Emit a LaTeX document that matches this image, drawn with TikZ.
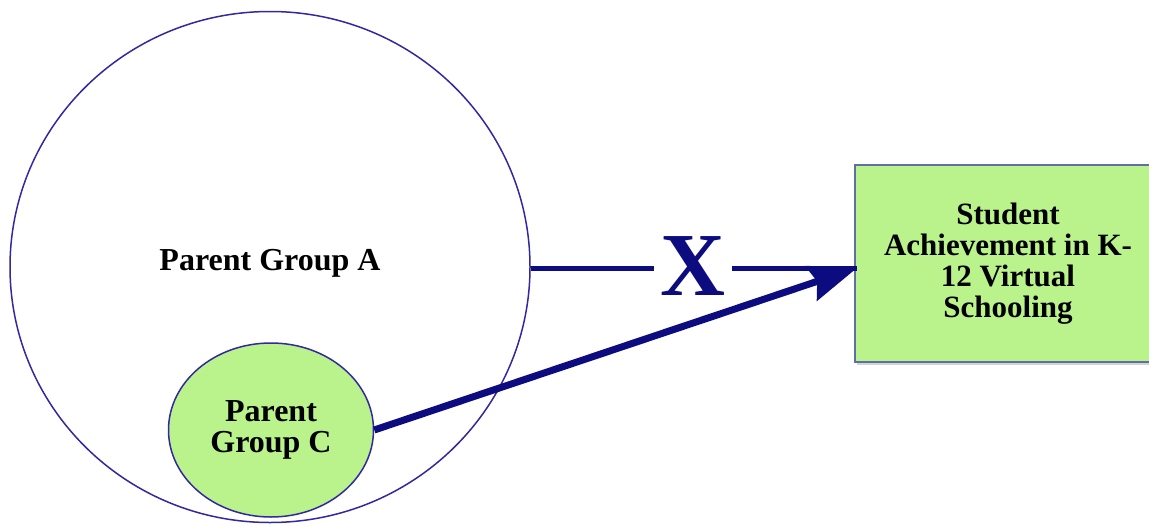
\documentclass[tikz,border=0pt]{standalone}
\usepackage{fontspec}
\setmainfont{Liberation Serif}
\usetikzlibrary{shapes.geometric,arrows.meta,shadows}
\definecolor{navy}{RGB}{12,12,128}
\definecolor{outl}{RGB}{50,40,160}
\definecolor{lgreen}{RGB}{186,242,140}
\definecolor{boxline}{RGB}{95,110,165}
\tikzset{
  grp/.style={ellipse,draw=outl,line width=1.5pt,inner sep=0pt,align=center,font=\bfseries\fontsize{32}{33}\selectfont},
  conn/.style={draw=navy,line width=5pt},
  bigarrow/.style={draw=navy,line width=7pt,-{Stealth[length=48pt,width=36pt,inset=6pt]}},
}
\begin{document}
\begin{tikzpicture}[x=1pt,y=-1pt]
\useasboundingbox (0,0) rectangle (1149,525);
\clip (0,0) rectangle (1149,525);
\node[grp,fill=white,minimum width=520pt,minimum height=511pt] (A) at (270,267) {};
\node[font=\bfseries\fontsize{32}{33}\selectfont] (Alab) at (270,263) {Parent Group A};
\node[grp,fill=lgreen,minimum width=205pt,minimum height=174pt] (C) at (271,430) {Parent\\[-2pt]Group C};
\node[rectangle,draw=boxline,line width=2pt,fill=lgreen,minimum width=306pt,minimum height=197pt,
  drop shadow={shadow xshift=2pt,shadow yshift=-3pt,opacity=.35},
  align=center,font=\bfseries\fontsize{31}{31}\selectfont] (B) at (1008,263.5) {Student\\Achievement in K-\\12 Virtual\\Schooling};
\node[text=navy,font=\bfseries\fontsize{90}{90}\selectfont,inner xsep=6pt,inner ysep=0pt] (X) at (693,266) {X};
\coordinate (bw) at (857,268);
\draw[conn] (A.east |- bw) -- (X.west |- bw);
\draw[conn] (X.east |- bw) -- (bw);
\draw[bigarrow] (C.east) -- (bw);
\end{tikzpicture}
\end{document}
